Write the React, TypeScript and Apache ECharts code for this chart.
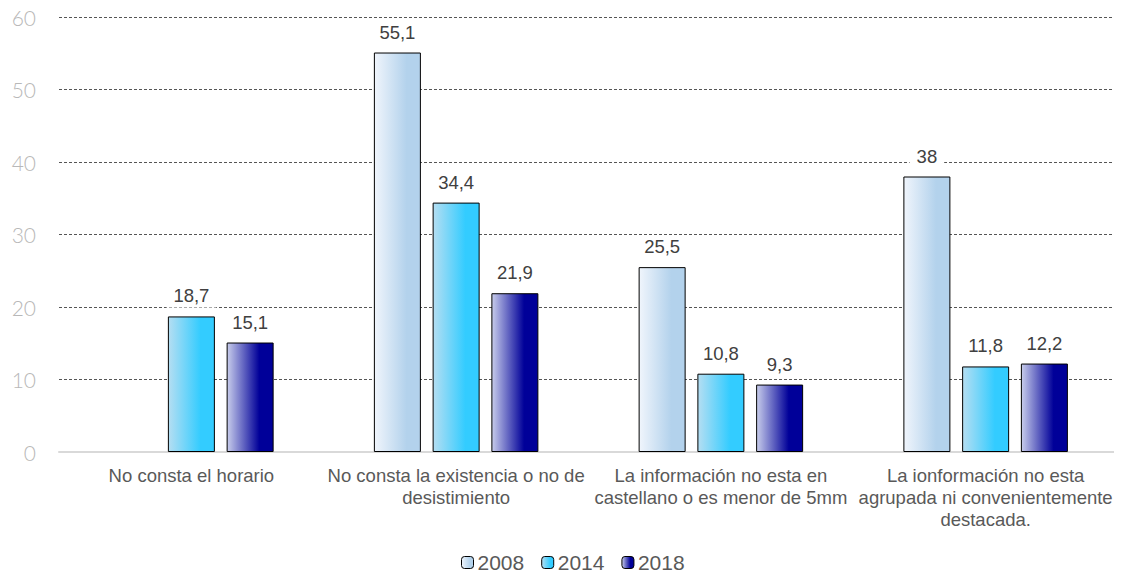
import React, { useEffect, useRef } from "react";
import * as echarts from "echarts";

const categories = [
  "No consta el horario",
  "No consta la existencia o no de\ndesistimiento",
  "La información no esta en\ncastellano o es menor de 5mm",
  "La ionformación no esta\nagrupada ni convenientemente\ndestacada.",
];
const years = ["2008", "2014", "2018"];
const values2008: (number | null)[] = [null, 55.1, 25.5, 38];
const values2014: (number | null)[] = [18.7, 34.4, 10.8, 11.8];
const values2018: (number | null)[] = [15.1, 21.9, 9.3, 12.2];
const yTicks = { min: 0, max: 60, interval: 10 };

const grad = (a: string, b: string) =>
  new echarts.graphic.LinearGradient(0, 0, 1, 0, [
    { offset: 0, color: a },
    { offset: 0.7, color: b },
    { offset: 1, color: b },
  ]);

export default function App() {
  const ref = useRef<HTMLDivElement>(null);
  useEffect(() => {
    if (!ref.current) return;
    const chart = echarts.init(ref.current, null, { renderer: "svg" });
    const colors = [
      grad("#f0f5fc", "#b3d2ec"),
      grad("#b5def2", "#33ccff"),
      grad("#c8cdeb", "#000099"),
    ];
    const data = [values2008, values2014, values2018];
    chart.setOption({
      animation: false,
      grid: { left: 59, right: 4, top: 17, bottom: 126 },
      legend: {
        bottom: 0,
        left: 456,
        itemWidth: 12,
        itemHeight: 12,
        itemGap: 17,
        textStyle: { fontFamily: "Liberation Sans", fontSize: 21, color: "#595959", padding: [0, 0, 0, -1] },
        data: years.map((y, i) => ({
          name: y,
          itemStyle: { color: colors[i], borderColor: "#000", borderWidth: 1 },
        })),
      },
      xAxis: {
        type: "category",
        data: categories,
        axisLine: { lineStyle: { color: "#d9d9d9", width: 2 } },
        axisTick: { show: false },
        axisLabel: {
          interval: 0,
          margin: 12,
          fontFamily: "Liberation Sans",
          fontSize: 18.5,
          lineHeight: 22,
          color: "#595959",
        },
      },
      yAxis: {
        type: "value",
        min: yTicks.min,
        max: yTicks.max,
        interval: yTicks.interval,
        axisLine: { show: false },
        axisTick: { show: false },
        splitLine: { lineStyle: { color: "#555", type: [3, 2], width: 1 } },
        axisLabel: {
          margin: 23,
          fontFamily: "Lato",
          fontWeight: 300,
          fontSize: 21,
          color: "#b8b8b8",
        },
      },
      series: years.map((y, i) => ({
        name: y,
        type: "bar",
        data: data[i],
        barWidth: 47,
        barGap: "25%",
        itemStyle: { color: colors[i], borderColor: "#000", borderWidth: 1 },
        label: {
          show: true,
          position: "top",
          distance: 9,
          fontFamily: "Liberation Sans",
          fontSize: 18.5,
          color: "#404040",
          backgroundColor: "#fff",
          padding: [2, 7],
          formatter: (p: any) => String(p.value).replace(".", ","),
        },
        z: 3,
      })),
    });
    return () => chart.dispose();
  }, []);
  return <div ref={ref} style={{ width: 1122, height: 578, margin: -8 }} />;
}
